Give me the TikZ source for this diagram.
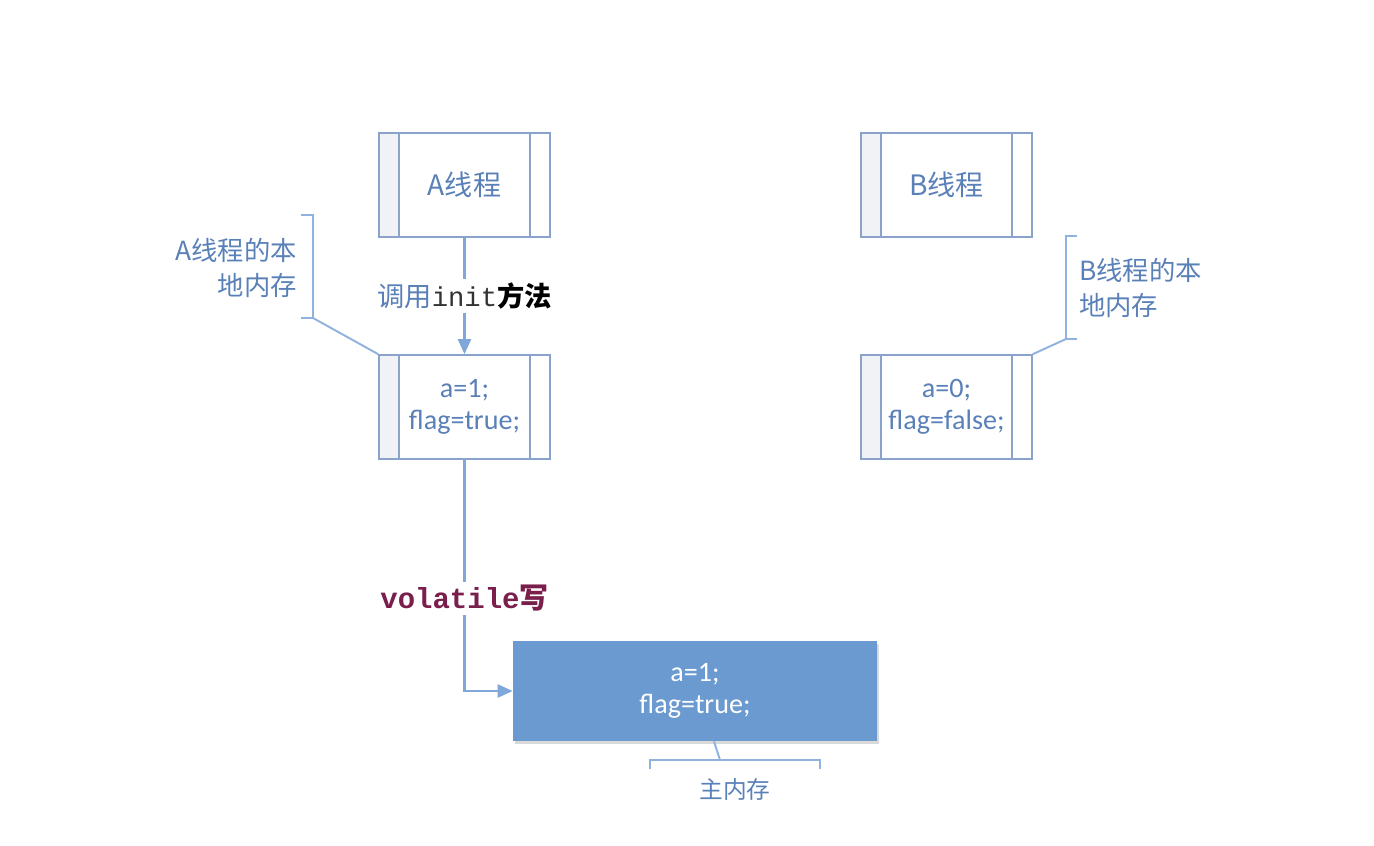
\documentclass[tikz,border=0pt]{standalone}
\usepackage{fontspec}
\setmainfont{Carlito}
\setmonofont{Liberation Mono}
\newfontfamily\cjk{Noto Sans CJK SC}
\usetikzlibrary{arrows.meta,shadows}
\definecolor{boxline}{HTML}{8AA3CB}
\definecolor{boxtext}{HTML}{5A80B8}
\definecolor{stripfill}{HTML}{F0F2F6}
\definecolor{flowline}{HTML}{7FA7DA}
\definecolor{calloutline}{HTML}{90B2DE}
\definecolor{mainfill}{HTML}{6A9AD0}
\definecolor{volcolor}{HTML}{7A1E4C}
\tikzset{
  thread/.style={draw=boxline, line width=1pt, minimum width=3.42cm, minimum height=2.08cm,
    align=center, text=boxtext, font=\fontsize{16}{18}\selectfont,
    path picture={
      \fill[stripfill] (path picture bounding box.north west) rectangle ([xshift=0.4cm]path picture bounding box.south west);
      \draw[boxline, line width=1pt] ([xshift=0.4cm]path picture bounding box.north west) -- ([xshift=0.4cm]path picture bounding box.south west);
      \draw[boxline, line width=1pt] ([xshift=-0.4cm]path picture bounding box.north east) -- ([xshift=-0.4cm]path picture bounding box.south east);
    }},
  flow/.style={draw=flowline, line width=1.4pt, -{Triangle[length=0.3cm,width=0.26cm]}},
  callout/.style={draw=calloutline, line width=1.1pt},
  notetext/.style={text=boxtext, font=\cjk\fontsize{15}{20}\selectfont}
}
\begin{document}
\begin{tikzpicture}[x=0.02cm,y=-0.02cm]
  \useasboundingbox (0,0) rectangle (1374,846);

  % thread boxes and their local memory
  \node[thread] (athread) at (464.5,185) {\cjk A线程};
  \node[thread] (bthread) at (946.5,185) {\cjk B线程};
  \node[thread] (amem) at (464.5,407) {a=1;\\flag=true;};
  \node[thread] (bmem) at (946.5,407) {a=0;\\flag=false;};

  % main memory
  \node[fill=mainfill, drop shadow={opacity=0.3, shadow xshift=0.04cm, shadow yshift=-0.05cm},
    minimum width=7.28cm, minimum height=2cm, align=center, text=white,
    font=\fontsize{16}{18}\selectfont] (mainmem) at (695,691) {a=1;\\flag=true;};

  % calls and writes
  \draw[flow] (athread) -- (amem)
    node[midway, fill=white, inner sep=2pt, font=\fontsize{15.5}{18}\selectfont]
    {{\cjk\color{boxtext}调用}{\ttfamily\color[HTML]{333333}init}{\cjk\bfseries 方法}};
  \draw[flow] (amem.south) |- (mainmem.west)
    node[pos=0.3, fill=white, inner sep=2pt, text=volcolor, font=\fontsize{16.5}{18}\selectfont]
    {{\ttfamily\bfseries volatile}{\cjk\bfseries 写}};

  % callout for A local memory
  \draw[callout] (301,215) -- (313,215) -- (313,318) -- (301,318);
  \draw[callout] (313,318) -- (amem.north west);
  \node[notetext, align=right, anchor=east] (alabel) at (303,268) {A线程的本\\地内存};

  % callout for B local memory
  \draw[callout] (1077,236) -- (1066,236) -- (1066,339) -- (1077,339);
  \draw[callout] (1066,339) -- (bmem.north east);
  \node[notetext, align=left, anchor=west] (blabel) at (1073,288) {B线程的本\\地内存};

  % callout for main memory
  \coordinate (mtick) at (720,760);
  \draw[callout] (650,769) -- (650,760) -- (820,760) -- (820,769);
  \draw[callout] ([xshift=0.38cm]mainmem.south) -- (mtick);
  \node[notetext, font=\cjk\fontsize{13.5}{16}\selectfont] (mlabel) at (735,790) {主内存};
\end{tikzpicture}
\end{document}
